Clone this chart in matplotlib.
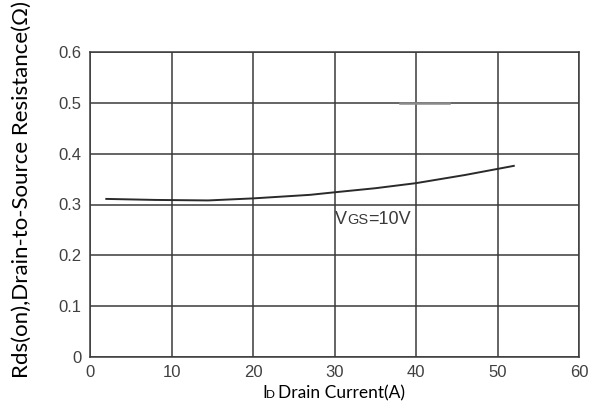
import numpy as np
import matplotlib.pyplot as plt

plt.rcParams['font.family'] = 'Liberation Sans'

# drain current (A) vs on-resistance (ohm) at VGS = 10V
current = [2, 8, 14.5, 20, 27, 30, 35, 40, 46, 52]
rds_on = [0.311, 0.309, 0.308, 0.312, 0.319, 0.324, 0.332, 0.342, 0.358, 0.376]

# short grey stroke sitting on the 0.5 gridline
stroke_x = [38, 44]
stroke_y = [0.5, 0.5]

xticks = [0, 10, 20, 30, 40, 50, 60]
yticks = [0, 0.1, 0.2, 0.3, 0.4, 0.5, 0.6]
ytick_labels = ['0', '0.1', '0.2', '0.3', '0.4', '0.5', '0.6']

W, H = 595, 407
fig = plt.figure(figsize=(W / 100, H / 100), dpi=100)
ax = fig.add_axes([90 / W, 1 - 357 / H, 489 / W, 305 / H])

ax.plot(current, rds_on, color='#2a2a2a', lw=1.4, zorder=3)
ax.plot(stroke_x, stroke_y, color='#8a8a8a', lw=1.8, zorder=2)

ax.set_xlim(0, 60)
ax.set_ylim(0, 0.6)
ax.set_xticks(xticks)
ax.set_yticks(yticks)
ax.set_yticklabels(ytick_labels)
ax.grid(True, color='#3a3a3a', lw=1.1)
ax.set_axisbelow(True)
for s in ax.spines.values():
    s.set_color('#3a3a3a')
    s.set_linewidth(1.1)
ax.tick_params(length=0, labelsize=12, labelcolor='#404040', pad=6)

# VGS=10V label, GS drawn as small capitals on the baseline
x0, base = 30.06, 0.262
tc = '#3a3a3a'
ax.annotate('V', (x0, base), fontsize=13, color=tc, va='baseline')
ax.annotate('GS', (x0, base), xytext=(12, 0), textcoords='offset pixels',
            fontsize=10.5, color=tc, va='baseline')
ax.annotate('=10V', (x0, base), xytext=(33, 0), textcoords='offset pixels',
            fontsize=13, color=tc, va='baseline')

# x label: I with small D, then the rest
xb = 1 - 398 / H
fig.text(262 / W, xb, 'I', fontsize=12.5, family='Lato', va='baseline')
fig.text(266 / W, xb, 'D', fontsize=8.5, family='Lato', va='baseline')
fig.text(278 / W, xb, 'Drain Current(A)', fontsize=12.5, family='Lato',
         va='baseline')

fig.text(22 / W, 1 - 190 / H, 'Rds(on),Drain-to-Source Resistance(Ω)',
         rotation=90, fontsize=16, family='Lato', ha='center', va='center')

fig.savefig('out.png', dpi=100)
